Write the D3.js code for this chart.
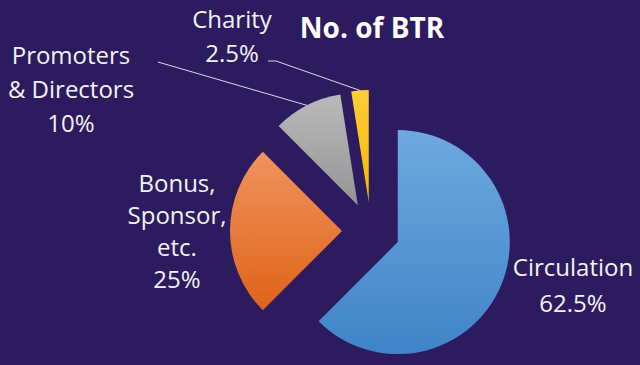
<!DOCTYPE html>
<html>
<head>
<meta charset="utf-8">
<script src="https://cdn.jsdelivr.net/npm/d3@7"></script>
<style>
  body { margin: 0; background: #2d1b60; }
  svg { display: block; }
  text { font-family: "Open Sans", Lato, sans-serif; fill: #f2f2f2; }
</style>
</head>
<body>
<svg id="chart"></svg>
<script>
// data
var categories = ["Circulation", "Bonus, Sponsor, etc.", "Promoters & Directors", "Charity"];
var values = [62.5, 25, 10, 2.5];
var labelLines = [["Circulation", "62.5%"], ["Bonus,", "Sponsor,", "etc.", "25%"], ["Promoters", "& Directors", "10%"], ["Charity", "2.5%"]];

// layout
var width = 640, height = 365;
var cx = 371, cy = 231, radius = 112, explode = 29;
var labelAt = [[573, 276], [177, 192], [71, 64], [232, 28]];   // first baseline of each label
var lineH = [36, 32, 34, 34];
var lineStart = [null, null, [158, 62], [268, 61]];

var gradients = [["#6ea9df", "#3f84c8"], ["#f0935e", "#df6318"], ["#b9b9b9", "#959595"], ["#ffcd3a", "#f5b800"]];

var svg = d3.select("#chart").attr("width", width).attr("height", height);
svg.append("rect").attr("width", width).attr("height", height).attr("fill", "#2d1b60");

var defs = svg.append("defs");
gradients.forEach(function(g, i) {
  var lg = defs.append("linearGradient").attr("id", "grad" + i)
    .attr("x1", 0).attr("y1", 0).attr("x2", 0).attr("y2", 1);
  lg.append("stop").attr("offset", "0%").attr("stop-color", g[0]);
  lg.append("stop").attr("offset", "100%").attr("stop-color", g[1]);
});

var pie = d3.pie().sort(null).value(function(d) { return d; });
var arcs = pie(values);
var arc = d3.arc().innerRadius(0).outerRadius(radius);
var edge = d3.arc().innerRadius(radius).outerRadius(radius);

function shift(d) {
  var m = (d.startAngle + d.endAngle) / 2;
  return [explode * Math.sin(m), -explode * Math.cos(m)];
}

var g = svg.append("g").attr("transform", "translate(" + cx + "," + cy + ")");

g.selectAll("path.slice")
  .data(arcs)
  .enter()
  .append("path")
  .attr("class", "slice")
  .attr("transform", function(d) { var s = shift(d); return "translate(" + s[0] + "," + s[1] + ")"; })
  .attr("d", arc)
  .attr("fill", function(d, i) { return "url(#grad" + i + ")"; });

// leader lines for the small slices
arcs.forEach(function(d, i) {
  if (!lineStart[i]) return;
  var s = shift(d), c = edge.centroid(d);
  var ex = cx + s[0] + c[0], ey = cy + s[1] + c[1];
  var p = lineStart[i];
  var pts = i == 3 ? [p, [p[0] + 8, p[1]], [ex, ey]] : [p, [ex, ey]];
  svg.append("path")
    .attr("d", d3.line()(pts))
    .attr("fill", "none")
    .attr("stroke", "#d9d9e6")
    .attr("stroke-width", 1);
});

// labels
labelLines.forEach(function(lines, i) {
  var t = svg.append("text")
    .attr("text-anchor", "middle")
    .attr("font-size", 24);
  lines.forEach(function(l, j) {
    t.append("tspan").attr("x", labelAt[i][0]).attr("y", labelAt[i][1] + j * lineH[i]).text(l);
  });
});

svg.append("text")
  .attr("x", 372).attr("y", 38)
  .attr("text-anchor", "middle")
  .attr("font-size", 28)
  .attr("font-weight", "bold")
  .style("fill", "#ffffff")
  .text("No. of BTR");
</script>
</body>
</html>
